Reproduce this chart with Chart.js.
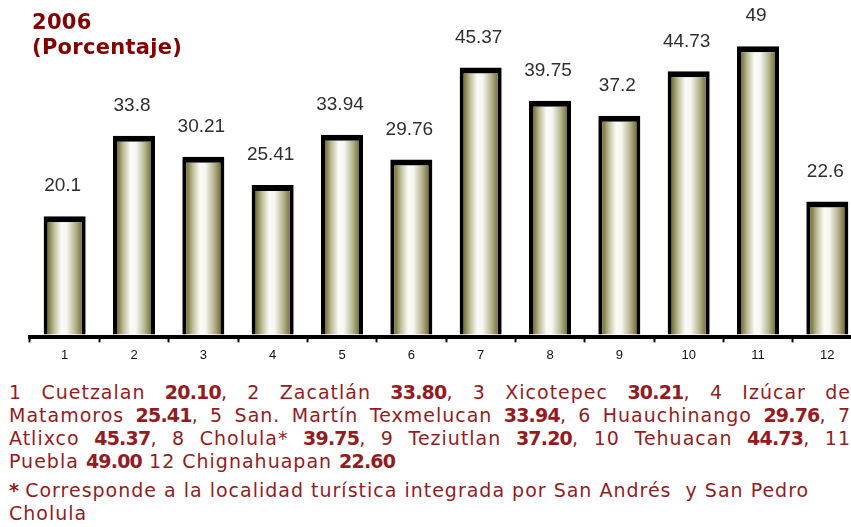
<!DOCTYPE html>
<html>
<head>
<meta charset="utf-8">
<script src="https://cdn.jsdelivr.net/npm/chart.js@4/dist/chart.umd.min.js"></script>
<style>
  html, body { margin: 0; padding: 0; background: #fff; overflow: hidden; width: 851px; height: 527px; }
  #wrap { position: absolute; left: 0; top: 0; width: 866px; height: 368px; }
  #title { position: absolute; left: 32px; top: 10px; font-family: "DejaVu Sans", Verdana, sans-serif; font-weight: bold; font-size: 21px; line-height: 25px; letter-spacing: 0.3px; color: #800000; z-index: 2; }
  #notes { position: absolute; left: 9px; top: 381px; width: 842px; font-family: "DejaVu Sans", Verdana, sans-serif; font-size: 19px; line-height: 23px; color: #921c1f; letter-spacing: 1px; }
  #notes .j { text-align: justify; text-align-last: justify; white-space: nowrap; }
  #notes .l { text-align: left; white-space: nowrap; }
  #notes b { font-weight: bold; letter-spacing: -0.8px; }
  #notes .gap { margin-top: 6px; }
</style>
</head>
<body>
<div id="title">2006<br>(Porcentaje)</div>
<div id="wrap"><canvas id="c" width="866" height="368"></canvas></div>
<div id="notes">
  <div class="j">1 Cuetzalan <b>20.10</b>, 2 Zacatlán <b>33.80</b>, 3 Xicotepec <b>30.21</b>, 4 Izúcar de</div>
  <div class="j">Matamoros <b>25.41</b>, 5 San. Martín Texmelucan <b>33.94</b>, 6 Huauchinango <b>29.76</b>, 7</div>
  <div class="j">Atlixco <b>45.37</b>, 8 Cholula* <b>39.75</b>, 9 Teziutlan <b>37.20</b>, 10 Tehuacan <b>44.73</b>, 11</div>
  <div class="l">Puebla <b>49.00</b> 12 Chignahuapan <b>22.60</b></div>
  <div class="l gap"><b>*</b> Corresponde a la localidad turística integrada por San Andrés&nbsp; y San Pedro</div>
  <div class="l">Cholula</div>
</div>
<script>
const categories = ["1", "2", "3", "4", "5", "6", "7", "8", "9", "10", "11", "12"];
const values = [20.1, 33.8, 30.21, 25.41, 33.94, 29.76, 45.37, 39.75, 37.2, 44.73, 49, 22.6];
const valueLabels = ["20.1", "33.8", "30.21", "25.41", "33.94", "29.76", "45.37", "39.75", "37.2", "44.73", "49", "22.6"];

const BAR_PCT = 0.606;

function barGradient(context) {
  const chart = context.chart;
  const xs = chart.scales && chart.scales.x;
  if (!xs || !chart.chartArea) return '#d8d6bc';
  const cx = xs.getPixelForValue(context.dataIndex);
  const w = (xs.width / categories.length) * BAR_PCT;
  const g = chart.ctx.createLinearGradient(cx - w / 2, 0, cx + w / 2, 0);
  g.addColorStop(0.0, '#5f5c28');
  g.addColorStop(0.12, '#7f7b44');
  g.addColorStop(0.25, '#c0bd9c');
  g.addColorStop(0.42, '#fbfbf8');
  g.addColorStop(0.55, '#f6f6f2');
  g.addColorStop(0.75, '#b8b590');
  g.addColorStop(0.9, '#7a763f');
  g.addColorStop(1.0, '#5f5c28');
  return g;
}

const valueLabelPlugin = {
  id: 'valueLabels',
  afterDatasetsDraw(chart) {
    const ctx = chart.ctx;
    const meta = chart.getDatasetMeta(0);
    ctx.save();
    ctx.font = '19px "Liberation Sans", Arial, sans-serif';
    ctx.fillStyle = '#2e2e2e';
    ctx.textAlign = 'center';
    ctx.textBaseline = 'middle';
    meta.data.forEach((bar, i) => {
      ctx.fillText(valueLabels[i], bar.x - 2, bar.y - 30);
    });
    ctx.restore();
  }
};

new Chart(document.getElementById('c'), {
  type: 'bar',
  data: {
    labels: categories,
    datasets: [{
      data: values,
      backgroundColor: barGradient,
      borderColor: '#000000',
      borderWidth: { top: 6, left: 4, right: 4, bottom: 0 },
      borderSkipped: 'bottom',
      barPercentage: BAR_PCT,
      categoryPercentage: 1.0
    }]
  },
  options: {
    responsive: false,
    animation: false,
    devicePixelRatio: 1,
    layout: { padding: { left: 30, right: 4, top: 0, bottom: 0 } },
    plugins: { legend: { display: false }, tooltip: { enabled: false }, title: { display: false } },
    scales: {
      y: { display: false, min: -0.5, max: 56.86 },
      x: {
        offset: true,
        border: { display: true, color: '#000', width: 4 },
        grid: { display: true, offset: true, drawOnChartArea: false, drawTicks: true, tickLength: 5, tickWidth: 2, tickColor: '#000' },
        ticks: { color: '#111', font: { family: '"Liberation Sans", Arial, sans-serif', size: 13 }, padding: 5, maxRotation: 0, autoSkip: false }
      }
    }
  },
  plugins: [valueLabelPlugin]
});
</script>
</body>
</html>
